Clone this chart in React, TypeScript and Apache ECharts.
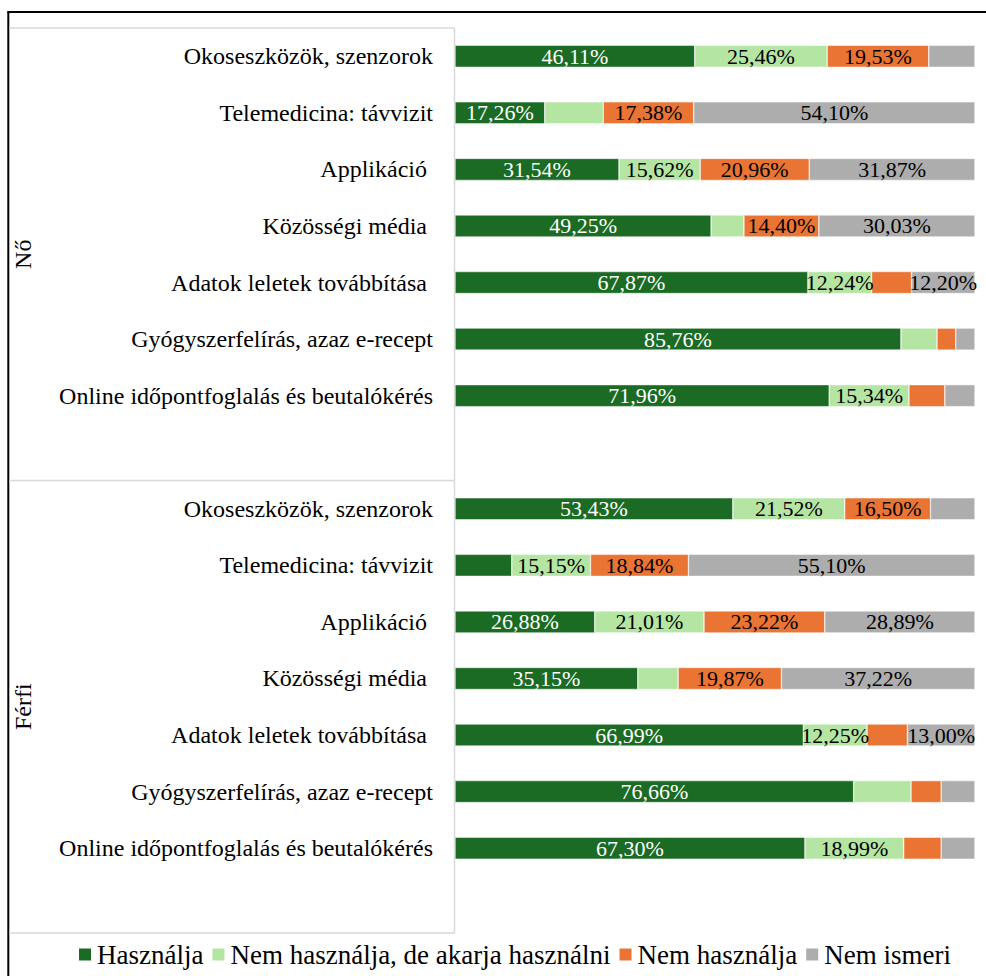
import React, { useEffect, useRef } from "react";
import * as echarts from "echarts";

const categories = [
  "Okoseszközök, szenzorok",
  "Telemedicina: távvizit",
  "Applikáció ",
  "Közösségi média ",
  "Adatok leletek továbbítása ",
  "Gyógyszerfelírás, azaz e-recept",
  "Online időpontfoglalás és beutalókérés",
];
const groups = ["Nő", "Férfi"];
const seriesNames = [
  "Használja",
  "Nem használja, de akarja használni",
  "Nem használja",
  "Nem ismeri",
];

// Nő
const hasznaljaNo = [46.11, 17.26, 31.54, 49.25, 67.87, 85.76, 71.96];
const akarjaNo = [25.46, 11.26, 15.62, 6.32, 12.24, 6.94, 15.34];
const nemHasznaljaNo = [19.53, 17.38, 20.96, 14.4, 7.69, 3.6, 6.9];
const nemIsmeriNo = [8.9, 54.1, 31.87, 30.03, 12.2, 3.7, 5.8];

// Férfi
const hasznaljaFerfi = [53.43, 10.91, 26.88, 35.15, 66.99, 76.66, 67.3];
const akarjaFerfi = [21.52, 15.15, 21.01, 7.76, 12.25, 11.04, 18.99];
const nemHasznaljaFerfi = [16.5, 18.84, 23.22, 19.87, 7.76, 5.8, 7.21];
const nemIsmeriFerfi = [8.55, 55.1, 28.89, 37.22, 13.0, 6.5, 6.5];

const colors = ["#1B6B24", "#B5E5A3", "#EA7433", "#ADADAD"];
const labelColors = ["#FFFFFF", "#000000", "#000000", "#000000"];

const FONT = "Liberation Serif";

export default function App() {
  const ref = useRef<HTMLDivElement>(null);

  useEffect(() => {
    if (!ref.current) return;
    const chart = echarts.init(ref.current, null, { renderer: "svg" });

    const rowLabels = [...categories, "", ...categories, ""];
    const rowKeys = rowLabels.map((_, i) => String(i));
    const build = (a: number[], b: number[]) => [...a, "-", ...b, "-"];
    const seriesData = [
      build(hasznaljaNo, hasznaljaFerfi),
      build(akarjaNo, akarjaFerfi),
      build(nemHasznaljaNo, nemHasznaljaFerfi),
      build(nemIsmeriNo, nemIsmeriFerfi),
    ];

    const gray = "#D9D9D9";
    const gridTop = 28;
    const gridH = 905;
    const gridLeft = 455;

    const option: any = {
      animation: false,
      backgroundColor: "#FFFFFF",
      textStyle: { fontFamily: FONT },
      grid: { left: gridLeft, top: gridTop, width: 520, height: gridH },
      xAxis: { type: "value", min: 0, max: 100, show: false },
      yAxis: {
        type: "category",
        inverse: true,
        data: rowKeys,
        axisLine: { show: false },
        axisTick: { show: false },
        axisLabel: {
          margin: 22,
          fontSize: 24,
          fontFamily: FONT,
          color: "#000",
          formatter: (v: string) => rowLabels[Number(v)],
        },
      },
      legend: {
        data: seriesNames,
        top: 936,
        left: 72,
        icon: "rect",
        itemWidth: 14,
        itemHeight: 14,
        itemGap: 7,
        textStyle: { fontSize: 27, fontFamily: FONT, color: "#000" },
      },
      series: seriesNames.map((name, si) => ({
        name,
        type: "bar",
        stack: "total",
        barWidth: 22,
        data: seriesData[si],
        itemStyle: { color: colors[si], borderColor: "#FFFFFF", borderWidth: 0.5 },
        label: {
          show: true,
          position: "inside",
          fontSize: 22,
          fontFamily: FONT,
          color: labelColors[si],
          formatter: (p: any) =>
            typeof p.value === "number" && p.value >= 12
              ? p.value.toFixed(2).replace(".", ",") + "%"
              : "",
        },
      })),
      graphic: [
        { type: "line", shape: { x1: 8.3, y1: 12, x2: 8.3, y2: 976 }, style: { stroke: "#000", lineWidth: 2 } },
        { type: "line", shape: { x1: 7.3, y1: 12, x2: 986, y2: 12 }, style: { stroke: "#000", lineWidth: 2 } },
        { type: "line", shape: { x1: 9, y1: gridTop, x2: gridLeft - 0.5, y2: gridTop }, style: { stroke: gray, lineWidth: 1.5 } },
        { type: "line", shape: { x1: 9, y1: gridTop + gridH / 2, x2: gridLeft - 0.5, y2: gridTop + gridH / 2 }, style: { stroke: gray, lineWidth: 1.5 } },
        { type: "line", shape: { x1: 9, y1: gridTop + gridH, x2: gridLeft - 0.5, y2: gridTop + gridH }, style: { stroke: gray, lineWidth: 1.5 } },
        { type: "line", shape: { x1: gridLeft - 0.5, y1: gridTop, x2: gridLeft - 0.5, y2: gridTop + gridH }, style: { stroke: gray, lineWidth: 1.5 } },
        {
          type: "text",
          x: 23,
          y: gridTop + gridH / 4,
          rotation: Math.PI / 2,
          style: { text: groups[0], font: `24px ${FONT}`, fill: "#000", align: "center", verticalAlign: "middle" },
        },
        {
          type: "text",
          x: 23,
          y: gridTop + (gridH * 3) / 4,
          rotation: Math.PI / 2,
          style: { text: groups[1], font: `24px ${FONT}`, fill: "#000", align: "center", verticalAlign: "middle" },
        },
      ],
    };

    chart.setOption(option);
    return () => chart.dispose();
  }, []);

  return (
    <div
      ref={ref}
      style={{ position: "absolute", left: 0, top: 0, width: 986, height: 976 }}
    />
  );
}
